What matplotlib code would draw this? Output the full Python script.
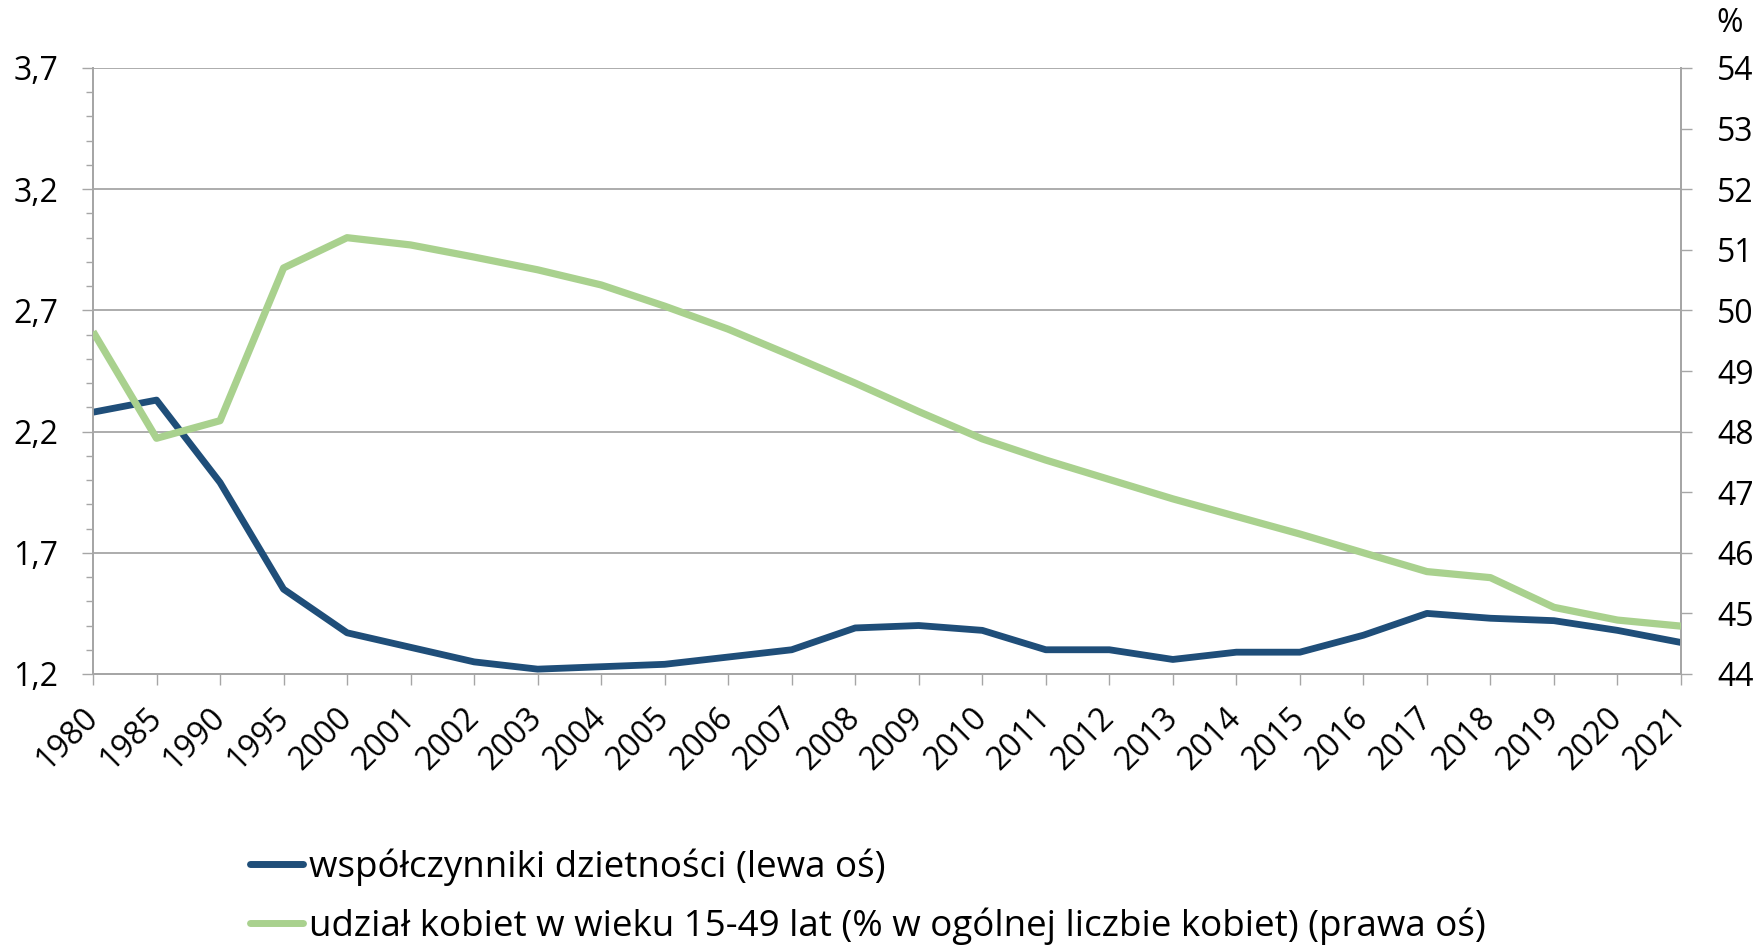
import matplotlib
matplotlib.use('Agg')
import matplotlib.pyplot as plt
from matplotlib.ticker import MultipleLocator, FixedLocator
from matplotlib.lines import Line2D

years = ['1980', '1985', '1990', '1995', '2000', '2001', '2002', '2003', '2004',
         '2005', '2006', '2007', '2008', '2009', '2010', '2011', '2012', '2013',
         '2014', '2015', '2016', '2017', '2018', '2019', '2020', '2021']
fertility = [2.28, 2.33, 1.99, 1.55, 1.37, 1.31, 1.25, 1.22, 1.23, 1.24, 1.27,
             1.30, 1.39, 1.40, 1.38, 1.30, 1.30, 1.26, 1.29, 1.29, 1.36, 1.45,
             1.43, 1.42, 1.38, 1.33]
women_share = [49.65, 47.89, 48.18, 50.70, 51.20, 51.08, 50.88, 50.67, 50.42,
               50.07, 49.69, 49.25, 48.80, 48.33, 47.88, 47.53, 47.21, 46.89,
               46.60, 46.31, 46.00, 45.69, 45.59, 45.10, 44.89, 44.79]
left_ticks = [1.2, 1.7, 2.2, 2.7, 3.2, 3.7]
left_labels = ['1,2', '1,7', '2,2', '2,7', '3,2', '3,7']
right_ticks = [44, 45, 46, 47, 48, 49, 50, 51, 52, 53, 54]
series_labels = ['współczynniki dzietności (lewa oś)',
                 'udział kobiet w wieku 15-49 lat (% w ogólnej liczbie kobiet) (prawa oś)']

BLUE = '#1F4E79'
GREEN = '#A9D18E'
GRAY = '#A6A6A6'
FS = 23
LFS = 26.5

plt.rcParams['font.family'] = ['Open Sans', 'DejaVu Sans']

W, H = 1758, 951
fig = plt.figure(figsize=(W / 100, H / 100), dpi=100)
ax = fig.add_axes([93 / W, 1 - 674 / H, (1681 - 93) / W, (674 - 68) / H])
ax2 = ax.twinx()

x = list(range(len(years)))
ax.plot(x, fertility, color=BLUE, lw=4.9, solid_joinstyle='round', solid_capstyle='butt', zorder=3)
ax2.plot(x, women_share, color=GREEN, lw=5.2, solid_joinstyle='round', solid_capstyle='butt', zorder=3)

ax.set_xlim(0, len(years) - 1)
ax.set_ylim(1.2, 3.7)
ax2.set_ylim(44, 54)

ax.yaxis.set_major_locator(FixedLocator(left_ticks))
ax.set_yticklabels(left_labels)
ax.yaxis.set_minor_locator(MultipleLocator(0.1))
ax2.yaxis.set_major_locator(FixedLocator(right_ticks))
ax2.set_yticklabels([str(v) for v in right_ticks])

ax.set_xticks(x)
ax.set_xticklabels(years, rotation=45, ha='right', va='center', rotation_mode='anchor')

ax.grid(axis='y', which='major', color=GRAY, lw=1.3)
ax.set_axisbelow(True)

for a in (ax, ax2):
    a.spines['top'].set_visible(False)
    for s in ('left', 'right', 'bottom'):
        a.spines[s].set_color(GRAY)
        a.spines[s].set_linewidth(1.3)

ax.tick_params(axis='y', which='major', direction='out', length=8, width=1, color=GRAY,
               labelsize=FS, pad=17)
ax.tick_params(axis='y', which='minor', direction='out', length=5, width=1, color=GRAY)
ax2.tick_params(axis='y', which='major', direction='out', length=8, width=1, color=GRAY,
                labelsize=FS, pad=18)
ax.tick_params(axis='x', direction='out', length=8, width=1, color=GRAY,
               labelsize=FS, pad=20)

fig.text(1730 / W, 1 - 24 / H, '%', fontsize=FS, ha='center', va='center')

handles = [Line2D([0], [0], color=BLUE, lw=5, solid_capstyle='round'),
           Line2D([0], [0], color=GREEN, lw=5, solid_capstyle='round')]
fig.legend(handles, series_labels, loc='upper left', bbox_to_anchor=(250 / W, 1 - 848 / H),
           frameon=False, fontsize=LFS, handlelength=1.45, handletextpad=0.14,
           labelspacing=0.6, borderaxespad=0, borderpad=0)

fig.savefig('out.png', dpi=100)
